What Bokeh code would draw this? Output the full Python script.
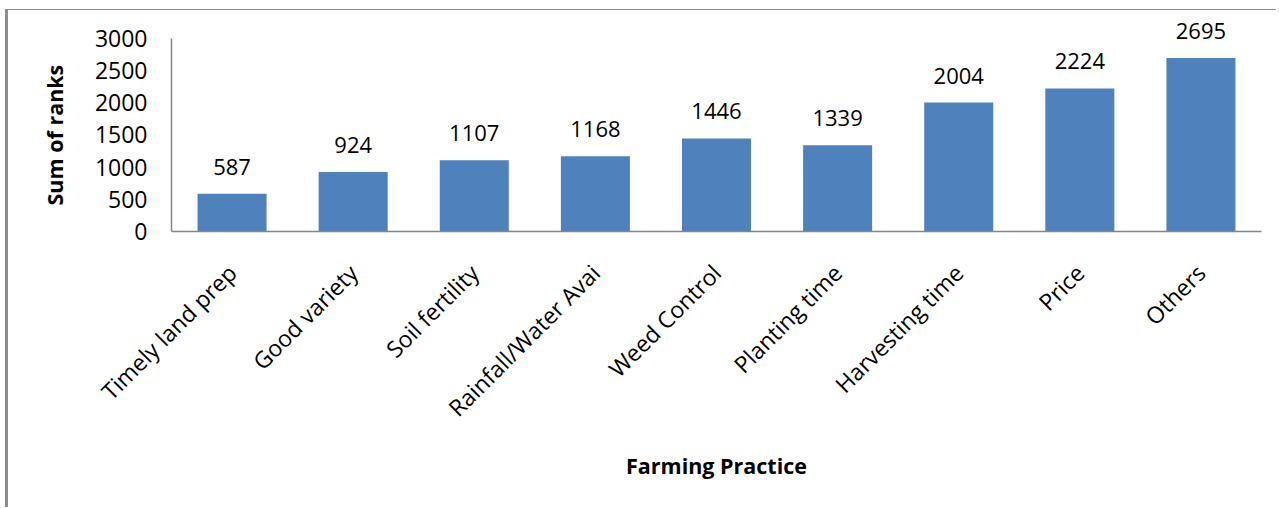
from bokeh.plotting import figure
from bokeh.models import ColumnDataSource, Range1d, LabelSet, Title
from bokeh.core.properties import value
from bokeh.embed import file_html
from bokeh.resources import INLINE
import math

categories = ["Timely land prep", "Good variety", "Soil fertility", "Rainfall/Water Avai",
              "Weed Control", "Planting time", "Harvesting time", "Price", "Others"]
values = [587, 924, 1107, 1168, 1446, 1339, 2004, 2224, 2695]
y_ticks = [0, 500, 1000, 1500, 2000, 2500, 3000]

FONT = "Open Sans"
src = ColumnDataSource(dict(cat=categories, val=values, lab=[str(v) for v in values]))

p = figure(x_range=categories, y_range=Range1d(0, 3373), width=1271, height=498,
           output_backend="svg", toolbar_location=None,
           min_border_left=163, min_border_right=18, min_border_top=4, min_border_bottom=277)
p.styles = {"border-left": "3px solid #8C8C8C", "border-top": "1px solid #8C8C8C",
            "margin-left": "5px", "margin-top": "9px"}

p.vbar(x="cat", top="val", width=0.57, source=src, fill_color="#4F81BD", line_color=None)

labels = LabelSet(x="cat", y="val", text="lab", source=src, y_offset=19,
                  text_align="center", text_baseline="alphabetic",
                  text_font=value(FONT), text_font_size="22px", text_color="#000000")
p.add_layout(labels)

p.outline_line_color = None
p.xgrid.grid_line_color = None
p.ygrid.grid_line_color = None

for ax in (p.xaxis, p.yaxis):
    ax.axis_line_color = "#868686"
    ax.axis_line_width = 1.5
    ax.major_tick_line_color = None
    ax.minor_tick_line_color = None
    ax.major_label_text_font = FONT
    ax.major_label_text_font_size = "23px"
    ax.major_label_text_color = "#000000"
    ax.axis_label_text_font = FONT
    ax.axis_label_text_font_style = "bold"
    ax.axis_label_text_font_size = "21.5px"
    ax.axis_label_text_color = "#000000"

p.yaxis.ticker = y_ticks
p.yaxis.bounds = (0, 3000)
p.yaxis.major_label_standoff = 18

ytitle = Title(text="Sum of ranks", align="left", offset=26, standoff=46,
               text_font=FONT, text_font_style="bold", text_font_size="21.5px",
               text_color="#000000")
p.add_layout(ytitle, "left")

p.xaxis.axis_label = "Farming Practice"
p.xaxis.major_label_orientation = math.pi / 4
p.xaxis.major_label_standoff = 31
p.xaxis.axis_label_standoff = 14

open("out.html", "w").write(file_html(p, INLINE))
